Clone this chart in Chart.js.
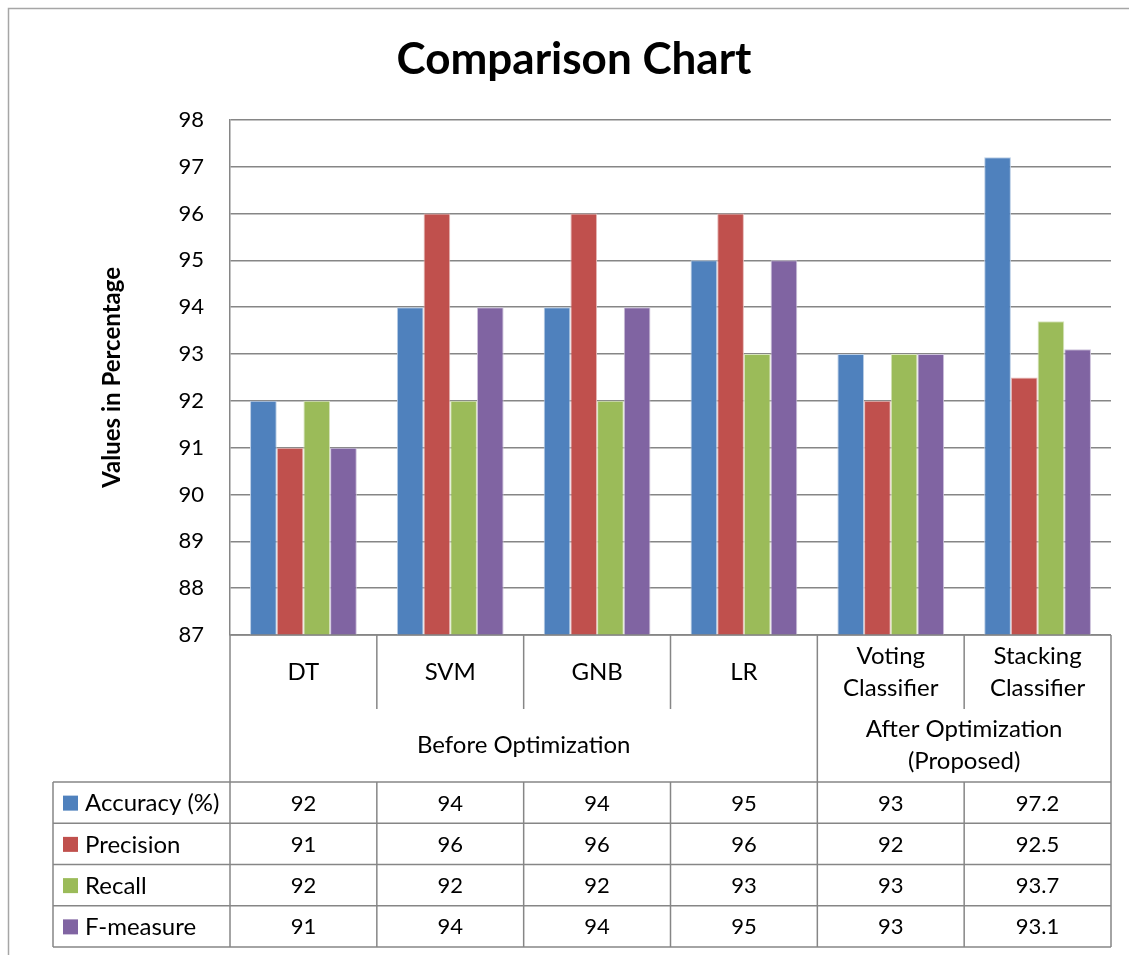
<!DOCTYPE html>
<html>
<head>
<meta charset="utf-8">
<title>Comparison Chart</title>
<script src="https://cdn.jsdelivr.net/npm/chart.js@4"></script>
<style>
  html, body { margin: 0; padding: 0; background: #fff; }
  #wrap { width: 1129px; height: 955px; }
</style>
</head>
<body>
<div id="wrap"><canvas id="comparisonChart" width="1129" height="955"></canvas></div>
<script>
// Model scores per classifier (percent)
const categories = ['DT', 'SVM', 'GNB', 'LR', ['Voting', 'Classifier'], ['Stacking', 'Classifier']];
const accuracy = [92, 94, 94, 95, 93, 97.2];
const precision = [91, 96, 96, 96, 92, 92.5];
const recall = [92, 92, 92, 93, 93, 93.7];
const fMeasure = [91, 94, 94, 95, 93, 93.1];

// Second level of the category axis
const groupLabels = [['Before Optimization'], ['After Optimization', '(Proposed)']];
const groupSpans = [4, 2];

const yTicks = [87, 88, 89, 90, 91, 92, 93, 94, 95, 96, 97, 98];

const FONT = 'Lato, "Open Sans", sans-serif';
const LINE = '#868686';

// Draws the outer frame
const framePlugin = {
  id: 'frame',
  beforeDraw(chart) {
    const ctx = chart.ctx;
    ctx.save();
    ctx.fillStyle = '#fff';
    ctx.fillRect(0, 0, chart.width, chart.height);
    ctx.strokeStyle = '#a6a6a6';
    ctx.lineWidth = 1.5;
    ctx.beginPath();
    ctx.moveTo(8.5, chart.height);
    ctx.lineTo(8.5, 8.5);
    ctx.lineTo(chart.width, 8.5);
    ctx.stroke();
    ctx.restore();
  }
};

// Category labels, group labels and the data table under the plot
const tablePlugin = {
  id: 'dataTable',
  afterDraw(chart) {
    const { ctx, chartArea } = chart;
    const xScale = chart.scales.x;
    const datasets = chart.data.datasets;
    const n = chart.data.labels.length;
    const step = (chartArea.right - chartArea.left) / n;
    const edge = i => chartArea.left + i * step;
    const top = chartArea.bottom;
    const catBottom = top + 74;
    const groupBottom = catBottom + 73;
    const rowH = 41.25;
    const tableBottom = groupBottom + rowH * datasets.length;
    const labelLeft = 53;

    ctx.save();
    ctx.strokeStyle = LINE;
    ctx.lineWidth = 1.5;
    const line = (x1, y1, x2, y2) => {
      ctx.beginPath();
      ctx.moveTo(x1, y1);
      ctx.lineTo(x2, y2);
      ctx.stroke();
    };

    // horizontal rules
    line(chartArea.left, top, chartArea.right, top);
    for (let r = 0; r <= datasets.length; r++) {
      const y = groupBottom + r * rowH;
      line(labelLeft, y, chartArea.right, y);
    }
    // outer verticals
    line(chartArea.left, top, chartArea.left, tableBottom);
    line(chartArea.right, top, chartArea.right, tableBottom);
    line(labelLeft, groupBottom, labelLeft, tableBottom);

    // category separators and group separators
    const groupEdges = [0];
    groupSpans.reduce((acc, s) => { groupEdges.push(acc + s); return acc + s; }, 0);
    for (let i = 1; i < n; i++) {
      const x = edge(i);
      line(x, top, x, catBottom);
      if (groupEdges.includes(i)) line(x, catBottom, x, groupBottom);
      line(x, groupBottom, x, tableBottom);
    }

    const textFont = '24px ' + FONT;
    const numFont = '22px ' + FONT;
    ctx.fillStyle = '#000';
    ctx.font = textFont;
    ctx.textAlign = 'center';
    ctx.textBaseline = 'middle';
    const lineGap = 32;

    // category names
    chart.data.labels.forEach((lab, i) => {
      const lines = Array.isArray(lab) ? lab : [lab];
      const cx = xScale.getPixelForValue(i);
      const cy = (top + catBottom) / 2;
      lines.forEach((t, k) => {
        ctx.fillText(t, cx, cy + (k - (lines.length - 1) / 2) * lineGap);
      });
    });

    // group names
    groupLabels.forEach((lines, g) => {
      const x1 = edge(groupEdges[g]);
      const x2 = edge(groupEdges[g + 1]);
      const cy = (catBottom + groupBottom) / 2;
      lines.forEach((t, k) => {
        ctx.fillText(t, (x1 + x2) / 2, cy + (k - (lines.length - 1) / 2) * lineGap);
      });
    });

    // series rows: legend key, name and values
    datasets.forEach((ds, r) => {
      const cy = groupBottom + r * rowH + rowH / 2;
      ctx.fillStyle = ds.backgroundColor;
      ctx.fillRect(63, cy - 7, 15, 15);
      ctx.fillStyle = '#000';
      ctx.font = textFont;
      ctx.textAlign = 'left';
      ctx.fillText(ds.label, 85, cy + 1);
      ctx.font = numFont;
      ctx.textAlign = 'center';
      ds.data.forEach((v, i) => {
        ctx.fillText(String(v), xScale.getPixelForValue(i), cy + 1);
      });
    });
    ctx.restore();
  }
};

const makeSet = (label, data, fill, edgeColor) => ({
  label,
  data,
  backgroundColor: fill,
  borderColor: edgeColor,
  borderWidth: 1,
  categoryPercentage: 0.727,
  barPercentage: 1
});

new Chart(document.getElementById('comparisonChart'), {
  type: 'bar',
  data: {
    labels: categories,
    datasets: [
      makeSet('Accuracy (%)', accuracy, '#4f81bd', '#b9cde5'),
      makeSet('Precision', precision, '#c0504d', '#e6b9b8'),
      makeSet('Recall', recall, '#9bbb59', '#d7e4bd'),
      makeSet('F-measure', fMeasure, '#8064a2', '#ccc1da')
    ]
  },
  options: {
    responsive: false,
    animation: false,
    layout: { padding: { left: 37, right: 18, top: 0, bottom: 312 } },
    plugins: {
      legend: { display: false },
      tooltip: { enabled: false },
      title: {
        display: true,
        text: 'Comparison Chart',
        color: '#000',
        font: { family: FONT, size: 44, weight: 'bold' },
        padding: { top: 33, bottom: 34 }
      }
    },
    scales: {
      x: {
        grid: { display: false },
        border: { display: false },
        ticks: { display: false }
      },
      y: {
        min: 87,
        max: 98,
        afterBuildTicks(scale) {
          scale.ticks = yTicks.map(v => ({ value: v }));
        },
        afterFit(scale) { scale.width = 193; },
        ticks: {
          color: '#000',
          font: { family: FONT, size: 22 },
          padding: 26
        },
        grid: { color: LINE, lineWidth: 1.5, drawTicks: false },
        border: { color: LINE, width: 1.5 },
        title: {
          display: true,
          text: 'Values in Percentage',
          color: '#000',
          font: { family: FONT, size: 24, weight: 'bold' },
          padding: { top: 61, bottom: 0 }
        }
      }
    }
  },
  plugins: [framePlugin, tablePlugin]
});
</script>
</body>
</html>
